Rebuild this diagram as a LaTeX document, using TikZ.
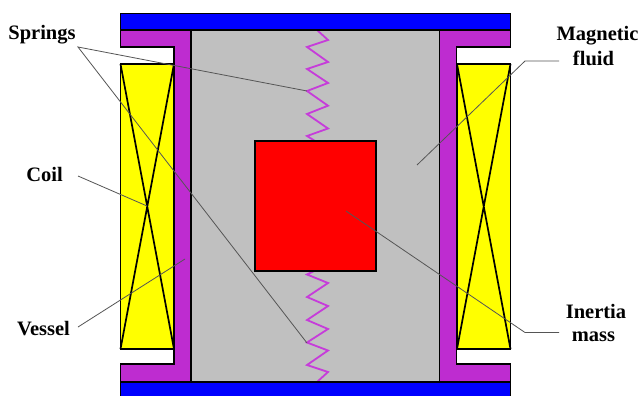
\documentclass[tikz,border=0pt]{standalone}
\usepackage{fontspec}
\setmainfont{Liberation Serif}
\definecolor{vesselc}{RGB}{190,44,208}
\definecolor{springc}{RGB}{198,60,218}
\definecolor{fluidc}{RGB}{192,192,192}
\definecolor{leaderc}{RGB}{85,85,85}
\definecolor{coilc}{RGB}{255,255,0}
\definecolor{massc}{RGB}{255,0,0}
\definecolor{platec}{RGB}{0,0,255}
\tikzset{
  part/.style={draw=black,line width=1.9pt,line join=miter},
  winding/.style={draw=black,line width=1.7pt},
  spring/.style={draw=springc,line width=1.8pt,line join=miter},
  leader/.style={draw=leaderc,line width=0.8pt},
  lab/.style={font=\bfseries\fontsize{20.5}{25}\selectfont,align=center,inner sep=0pt,text=black,anchor=base}
}
\begin{document}
\begin{tikzpicture}[x=1pt,y=-1pt]
\clip (0,0) rectangle (640,396);
\fill[white] (0,0) rectangle (640,396);
% fluid
\draw[part,fill=fluidc] (191,30) rectangle (439.5,382);
% springs
\draw[spring] (317,30) -- (328,40) -- (307,47) -- (328,62) -- (307,69) -- (328,83) -- (307,91) -- (328,105.7) -- (307,114) -- (328,128.5) -- (307,136) -- (315,141);
\draw[spring] (314,271) -- (307,274.5) -- (328,283) -- (307,297) -- (328,306) -- (307,320) -- (328,329) -- (307,342.5) -- (328,350.5) -- (307,365) -- (328,372) -- (317,382);
% mass
\draw[part,fill=massc] (255,141) rectangle (376,271);
% vessel
\draw[part,fill=vesselc] (120.5,30) -- (191,30) -- (191,382) -- (120.5,382) -- (120.5,364) -- (174,364) -- (174,47) -- (120.5,47) -- cycle;
\draw[part,fill=vesselc] (510.5,30) -- (439.5,30) -- (439.5,382) -- (510.5,382) -- (510.5,364) -- (456.5,364) -- (456.5,47) -- (510.5,47) -- cycle;
% plates
\draw[part,fill=platec] (120.5,13.5) rectangle (510.5,30);
\draw[part,fill=platec] (120.5,382) rectangle (510.5,400);
% coils
\draw[part,fill=coilc] (120.5,64) rectangle (174,349);
\draw[winding] (120.5,64) -- (174,349) (174,64) -- (120.5,349);
\draw[part,fill=coilc] (457,64) rectangle (510.5,349);
\draw[winding] (457,64) -- (510.5,349) (510.5,64) -- (457,349);
% labels
\node[lab] (springs) at (42,39.5) {Springs};
\node[lab] (coil) at (44.5,181.5) {Coil};
\node[lab] (vessel) at (43.5,335.5) {Vessel};
\node[lab] (magnetic) at (597.5,65.7) {Magnetic\\fluid\hspace*{8pt}};
\node[lab] (inertia) at (596,341) {Inertia\\[-2pt]mass\hspace*{5pt}};
% leader ends
\coordinate (s0) at (78,47);
\coordinate (s1) at (307,91);
\coordinate (s2) at (307,343);
\coordinate (c0) at (78,176);
\coordinate (c1) at (147,206);
\coordinate (v0) at (78,327);
\coordinate (v1) at (185,259);
\coordinate (m0) at (559,61);
\coordinate (m1) at (525,61);
\coordinate (m2) at (417,165);
\coordinate (i0) at (559,332.5);
\coordinate (i1) at (525,332.5);
\coordinate (i2) at (346,211);
\draw[leader] (s1) -- (s0) -- (s2);
\draw[leader] (c0) -- (c1);
\draw[leader] (v0) -- (v1);
\draw[leader] (m0) -- (m1) -- (m2);
\draw[leader] (i0) -- (i1) -- (i2);
\end{tikzpicture}
\end{document}
